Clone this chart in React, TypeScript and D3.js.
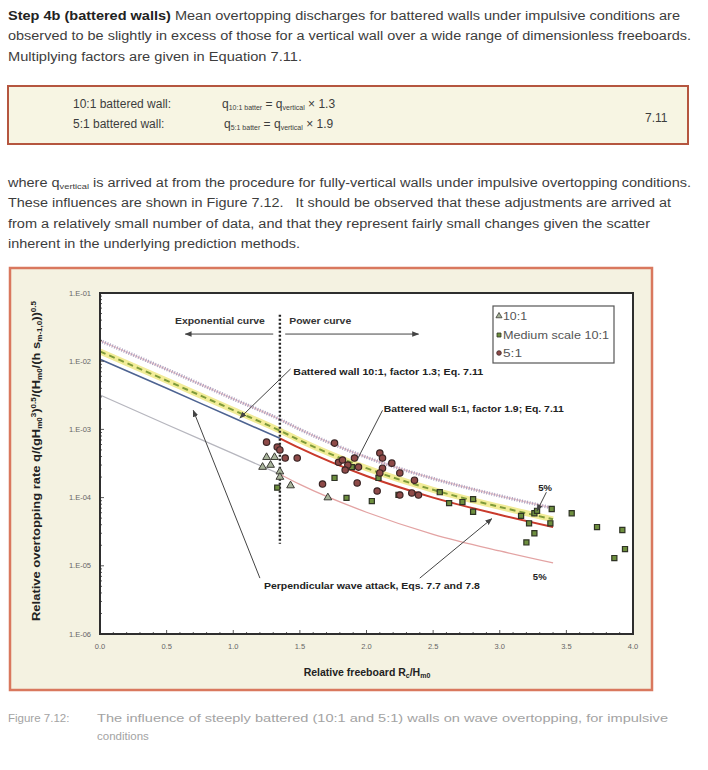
import React from 'react';
import * as d3 from 'd3';

// curve readings, x = Rc/Hm0
const curveX = [0, 0.5, 1.0, 1.35, 1.5, 2.0, 2.5, 3.0, 3.4];
const perpendicular = [1.07e-2, 4.0e-3, 1.48e-3, 7.4e-4, 5.3e-4, 2.07e-4, 1.0e-4, 5.6e-5, 3.7e-5];
const batter10 = [1.39e-2, 5.2e-3, 1.92e-3, 9.6e-4, 6.9e-4, 2.7e-4, 1.3e-4, 7.3e-5, 4.8e-5];
const batter5 = [2.0e-2, 7.6e-3, 2.8e-3, 1.4e-3, 1.0e-3, 3.9e-4, 1.9e-4, 1.06e-4, 7.0e-5];
const lower5 = [3.2e-3, 1.18e-3, 4.4e-4, 2.2e-4, 1.56e-4, 6.1e-5, 2.9e-5, 1.65e-5, 1.1e-5];
const switchX = 1.35;

// measured data [Rc/Hm0, q]
const tri101 = [
  [1.25, 3.9e-4], [1.31, 3.9e-4], [1.22, 2.8e-4], [1.28, 3.0e-4],
  [1.35, 2.4e-4], [1.35, 2.0e-4], [1.43, 1.5e-4], [1.71, 1.0e-4],
];
const medium101 = [
  [1.33, 1.4e-4], [1.76, 1.94e-4], [1.85, 9.9e-5], [1.89, 2.8e-4], [2.04, 8.9e-5],
  [2.09, 1.94e-4], [2.24, 1.1e-4], [2.55, 1.2e-4], [2.62, 8.3e-5], [2.72, 8.6e-5],
  [2.80, 9.5e-5], [2.80, 6.2e-5], [3.16, 5.4e-5], [3.22, 4.2e-5], [3.26, 5.9e-5],
  [3.28, 6.4e-5], [3.39, 6.8e-5], [3.38, 4.2e-5], [3.54, 5.9e-5], [3.73, 3.7e-5],
  [3.92, 3.35e-5], [3.94, 1.76e-5], [3.86, 1.3e-5], [3.26, 3.0e-5], [3.20, 2.2e-5],
];
const five1 = [
  [1.25, 6.5e-4], [1.33, 5.5e-4], [1.35, 5.0e-4], [1.39, 3.8e-4], [1.48, 3.8e-4],
  [1.76, 6.3e-4], [1.79, 3.3e-4], [1.82, 3.56e-4], [1.86, 3.0e-4], [1.91, 3.8e-4],
  [1.94, 2.8e-4], [1.84, 2.54e-4], [1.67, 1.58e-4], [1.93, 1.64e-4], [2.10, 4.5e-4],
  [2.12, 3.8e-4], [2.19, 3.2e-4], [2.12, 2.7e-4], [2.10, 2.3e-4], [2.25, 2.3e-4],
  [2.36, 1.8e-4], [2.08, 1.25e-4], [2.25, 1.09e-4], [2.34, 1.17e-4], [2.39, 1.09e-4],
];

const xTicks = [0, 0.5, 1.0, 1.5, 2.0, 2.5, 3.0, 3.5, 4.0];
const yTicks = [1e-1, 1e-2, 1e-3, 1e-4, 1e-5, 1e-6];
const yTickLabels = ['1.E-01', '1.E-02', '1.E-03', '1.E-04', '1.E-05', '1.E-06'];

const font = 'Liberation Sans, Arial, sans-serif';
const textCol = '#3d3d3d';

export default function App() {
  const x = d3.scaleLinear().domain([0, 4]).range([100, 633]);
  const y = d3.scaleLog().domain([1e-6, 1e-1]).range([634, 293]);

  const line = d3.line<number[]>().x(d => x(d[0])).y(d => y(d[1])).curve(d3.curveMonotoneX);
  const pts = (vals: number[]) => curveX.map((cx, i) => [cx, vals[i]]);
  const left = (vals: number[]) => pts(vals).filter(p => p[0] <= switchX);
  const right = (vals: number[]) => pts(vals).filter(p => p[0] >= switchX);

  const triPath = d3.symbol(d3.symbolTriangle, 26)()!;
  const sqPath = d3.symbol(d3.symbolSquare, 26)()!;

  const minorX = d3.range(0, 40).map(i => i / 10);
  const minorY: number[] = [];
  for (let e = -6; e < -1; e++) for (let m = 2; m <= 9; m++) minorY.push(m * Math.pow(10, e));

  return (
    <svg width={708} height={770} style={{ position: 'absolute', left: 0, top: 0, background: '#fff' }}
      fontFamily={font}>
      <defs>
        <marker id="ah" viewBox="0 0 10 10" refX="9" refY="5" markerWidth="7" markerHeight="7" orient="auto-start-reverse">
          <path d="M0,1 L10,5 L0,9 z" fill="#444" />
        </marker>
      </defs>

      {/* paragraph 1 */}
      <g fontSize={12.5} fill={textCol}>
        <text x={8} y={20} textLength={672} lengthAdjust="spacingAndGlyphs">
          <tspan fontWeight="bold" fill="#222">Step 4b (battered walls)</tspan> Mean overtopping discharges for battered walls under impulsive conditions are
        </text>
        <text x={8} y={40} textLength={683} lengthAdjust="spacingAndGlyphs">observed to be slightly in excess of those for a vertical wall over a wide range of dimensionless freeboards.</text>
        <text x={8} y={61} textLength={294} lengthAdjust="spacingAndGlyphs">Multiplying factors are given in Equation 7.11.</text>
      </g>

      {/* equation box */}
      <rect x={8} y={86} width={680} height={58} fill="#f7f5e3" stroke="#b5563f" strokeWidth={2} />
      <g fontSize={12} fill={textCol}>
        <text x={73} y={108}>10:1 battered wall:</text>
        <text x={73} y={128}>5:1 battered wall:</text>
        <text x={222} y={108}>q<tspan fontSize={7} dy={2}>10:1 batter</tspan><tspan dy={-2}> = q</tspan><tspan fontSize={7} dy={2}>vertical</tspan><tspan dy={-2}> × 1.3</tspan></text>
        <text x={224} y={128}>q<tspan fontSize={7} dy={2}>5:1 batter</tspan><tspan dy={-2}> = q</tspan><tspan fontSize={7} dy={2}>vertical</tspan><tspan dy={-2}>  × 1.9</tspan></text>
        <text x={645} y={122}>7.11</text>
      </g>

      {/* paragraph 2 */}
      <g fontSize={12.5} fill={textCol}>
        <text x={8} y={187} textLength={683} lengthAdjust="spacingAndGlyphs">where q<tspan fontSize={8} dy={2}>vertical</tspan><tspan dy={-2}> is arrived at from the procedure for fully-vertical walls under impulsive overtopping conditions.</tspan></text>
        <text x={8} y={207} textLength={663} lengthAdjust="spacingAndGlyphs" xmlSpace="preserve">These influences are shown in Figure 7.12.   It should be observed that these adjustments are arrived at</text>
        <text x={8} y={228} textLength={642} lengthAdjust="spacingAndGlyphs">from a relatively small number of data, and that they represent fairly small changes given the scatter</text>
        <text x={8} y={248} textLength={292} lengthAdjust="spacingAndGlyphs">inherent in the underlying prediction methods.</text>
      </g>

      {/* chart frame */}
      <rect x={10} y={268} width={642} height={422} fill="#f4f2e1" stroke="#d9785e" strokeWidth={2.5} />
      <rect x={100} y={293} width={533} height={341} fill="#fff" />

      {/* curves */}
      <g fill="none">
        <path d={line(pts(batter5))!} stroke="#f0c8cc" strokeWidth={1.5} />
        <path d={line(pts(batter5))!} stroke="#a9a0bf" strokeWidth={3.5} strokeDasharray="1 1.6" />
        <path d={line(pts(batter10))!} stroke="#f2ec98" strokeWidth={6} />
        <path d={line(pts(batter10))!} stroke="#7f9b3a" strokeWidth={2} strokeDasharray="6 4" />
        <path d={line(left(perpendicular))!} stroke="#4d6391" strokeWidth={1.6} />
        <path d={line(right(perpendicular))!} stroke="#c93a2c" strokeWidth={2} />
        <path d={line(left(lower5))!} stroke="#b6b6be" strokeWidth={1.3} />
        <path d={line(right(lower5))!} stroke="#e3a3a3" strokeWidth={1.3} />
      </g>

      {/* exponential / power boundary */}
      <line x1={x(switchX)} x2={x(switchX)} y1={y(4.8e-2)} y2={y(2.1e-5)} stroke="#222" strokeWidth={2.4} strokeDasharray="2 2" />
      <line x1={x(1.30)} x2={x(0.64)} y1={y(2.5e-2)} y2={y(2.5e-2)} stroke="#444" strokeWidth={1} markerEnd="url(#ah)" />
      <line x1={x(1.39)} x2={x(2.39)} y1={y(2.5e-2)} y2={y(2.5e-2)} stroke="#444" strokeWidth={1} markerEnd="url(#ah)" />
      <g fontSize={9.5} fontWeight="bold" fill="#333">
        <text x={x(0.9)} y={y(3.9e-2) + 3} textAnchor="middle" textLength={90} lengthAdjust="spacingAndGlyphs">Exponential curve</text>
        <text x={x(1.42)} y={y(3.9e-2) + 3} textLength={62} lengthAdjust="spacingAndGlyphs">Power curve</text>
      </g>

      {/* points */}
      <g>
        {tri101.map((d, i) => (
          <path key={'t' + i} d={triPath} transform={`translate(${x(d[0])},${y(d[1])})`} fill="#a8b49a" stroke="#3b3b35" strokeWidth={1} />
        ))}
        {medium101.map((d, i) => (
          <path key={'s' + i} d={sqPath} transform={`translate(${x(d[0])},${y(d[1])})`} fill="#6e8f3e" stroke="#2e3324" strokeWidth={1.2} />
        ))}
        {five1.map((d, i) => (
          <circle key={'c' + i} cx={x(d[0])} cy={y(d[1])} r={3.2} fill="#8e4a48" stroke="#3a2424" strokeWidth={1.2} />
        ))}
      </g>

      {/* annotations */}
      <g fontSize={9.5} fontWeight="bold" fill="#222">
        <line x1={x(1.43)} y1={y(7.7e-3)} x2={x(1.05)} y2={y(1.47e-3)} stroke="#444" strokeWidth={1} markerEnd="url(#ah)" />
        <text x={x(1.45)} y={y(6.9e-3) + 3} textLength={190} lengthAdjust="spacingAndGlyphs">Battered wall 10:1, factor 1.3; Eq. 7.11</text>
        <line x1={x(2.12)} y1={y(1.9e-3)} x2={x(1.93)} y2={y(3.6e-4)} stroke="#444" strokeWidth={1} />
        <text x={x(2.13)} y={y(2.0e-3) + 3} textLength={180} lengthAdjust="spacingAndGlyphs">Battered wall 5:1, factor 1.9; Eq. 7.11</text>
        <line x1={x(1.20)} y1={y(6.6e-6)} x2={x(0.70)} y2={y(1.9e-3)} stroke="#444" strokeWidth={1} markerEnd="url(#ah)" />
        <line x1={x(2.40)} y1={y(6.6e-6)} x2={x(2.94)} y2={y(4.9e-5)} stroke="#444" strokeWidth={1} markerEnd="url(#ah)" />
        <text x={x(1.23)} y={y(5.0e-6) + 3} textLength={216} lengthAdjust="spacingAndGlyphs">Perpendicular wave attack, Eqs. 7.7 and 7.8</text>
        <line x1={x(3.35)} y1={y(1.2e-4)} x2={x(3.28)} y2={y(6.4e-5)} stroke="#444" strokeWidth={1} markerEnd="url(#ah)" />
        <text x={x(3.34)} y={y(1.38e-4) + 3} textAnchor="middle">5%</text>
        <text x={x(3.30)} y={y(6.9e-6) + 3} textAnchor="middle">5%</text>
      </g>

      {/* legend */}
      <rect x={493} y={306} width={121} height={57} fill="#fff" stroke="#555" strokeWidth={1.2} />
      <g fontSize={11.5} fill="#555">
        <path d={d3.symbol(d3.symbolTriangle, 16)()!} transform="translate(499,316)" fill="#a8b49a" stroke="#3b3b35" strokeWidth={0.8} />
        <text x={503} y={320} textLength={24} lengthAdjust="spacingAndGlyphs">10:1</text>
        <path d={d3.symbol(d3.symbolSquare, 16)()!} transform="translate(499,335)" fill="#6e8f3e" stroke="#2e3324" strokeWidth={0.8} />
        <text x={503} y={339} textLength={106} lengthAdjust="spacingAndGlyphs">Medium scale 10:1</text>
        <circle cx={499} cy={353} r={2.3} fill="#8e4a48" stroke="#3a2424" strokeWidth={0.8} />
        <text x={503} y={357} textLength={19} lengthAdjust="spacingAndGlyphs">5:1</text>
      </g>

      {/* axes */}
      <g stroke="#333" strokeWidth={0.8}>
        {minorX.map((v, i) => (
          <line key={'mx' + i} x1={x(v)} x2={x(v)} y1={634} y2={i % 5 === 0 ? 630 : 632} />
        ))}
        {minorY.map((v, i) => (
          <line key={'my' + i} x1={100} x2={102} y1={y(v)} y2={y(v)} />
        ))}
        {yTicks.map((v, i) => (
          <line key={'My' + i} x1={100} x2={104} y1={y(v)} y2={y(v)} />
        ))}
      </g>
      <rect x={100} y={293} width={533} height={341} fill="none" stroke="#2e2e2e" strokeWidth={2} />
      <g fontSize={7.5} fill="#666">
        {yTicks.map((v, i) => (
          <text key={'yl' + i} x={91} y={y(v) + 2.5} textAnchor="end">{yTickLabels[i]}</text>
        ))}
        {xTicks.map((v, i) => (
          <text key={'xl' + i} x={x(v)} y={649} textAnchor="middle">{v.toFixed(1)}</text>
        ))}
      </g>
      <text x={367} y={676} textAnchor="middle" fontSize={10.5} fontWeight="bold" fill="#222">
        Relative freeboard R<tspan fontSize={7} dy={2}>c</tspan><tspan dy={-2}>/H</tspan><tspan fontSize={7} dy={2}>m0</tspan>
      </text>
      <text transform="translate(40,461) rotate(-90)" textAnchor="middle" fontSize={10.5} fontWeight="bold" fill="#222"
        textLength={320} lengthAdjust="spacingAndGlyphs">
        Relative overtopping rate q/(gH<tspan fontSize={6.5} dy={2}>m0</tspan><tspan fontSize={6.5} dy={-6}>3</tspan><tspan dy={4}>)</tspan><tspan fontSize={6.5} dy={-4}>0.5</tspan><tspan dy={4}>/(H</tspan><tspan fontSize={6.5} dy={2}>m0</tspan><tspan dy={-2}>/(h s</tspan><tspan fontSize={6.5} dy={2}>m-1,0</tspan><tspan dy={-2}>))</tspan><tspan fontSize={6.5} dy={-4}>0.5</tspan>
      </text>

      {/* caption */}
      <g fontSize={11.5} fill="#a3a3a3">
        <text x={8} y={722}>Figure 7.12:</text>
        <text x={97} y={722} textLength={571} lengthAdjust="spacingAndGlyphs">The influence of steeply battered (10:1 and 5:1) walls on wave overtopping, for impulsive</text>
        <text x={97} y={740}>conditions</text>
      </g>
    </svg>
  );
}
